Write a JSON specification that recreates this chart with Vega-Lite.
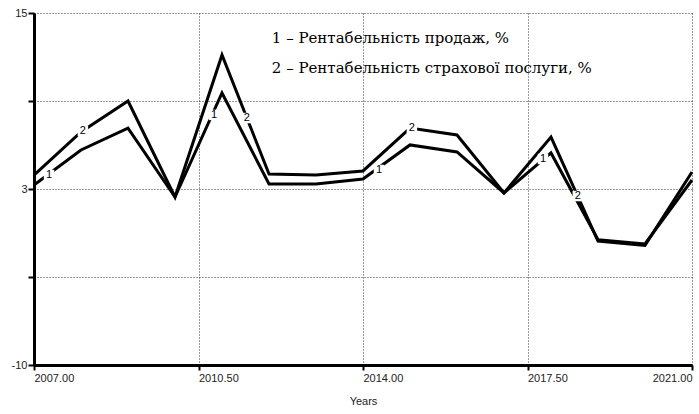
{
  "$schema": "https://vega.github.io/schema/vega-lite/v6.json",
  "width": 658,
  "height": 352,
  "autosize": "none",
  "padding": {"left": 34, "top": 13, "right": 7, "bottom": 49},
  "background": "white",
  "config": {"view": {"stroke": null}},
  "datasets": {
    "lines": [
      {"year": 2007, "series": "2", "value": 3.49}, {"year": 2008, "series": "2", "value": 6.55}, {"year": 2009, "series": "2", "value": 8.75},
      {"year": 2010, "series": "2", "value": 1.93}, {"year": 2011, "series": "2", "value": 12.02}, {"year": 2012, "series": "2", "value": 3.57},
      {"year": 2013, "series": "2", "value": 3.49}, {"year": 2014, "series": "2", "value": 3.78}, {"year": 2015, "series": "2", "value": 6.83},
      {"year": 2016, "series": "2", "value": 6.34}, {"year": 2017, "series": "2", "value": 2.22}, {"year": 2018, "series": "2", "value": 6.19},
      {"year": 2019, "series": "2", "value": -1.2}, {"year": 2020, "series": "2", "value": -1.5}, {"year": 2021, "series": "2", "value": 3.71},
      {"year": 2007, "series": "1", "value": 2.78}, {"year": 2008, "series": "1", "value": 5.27}, {"year": 2009, "series": "1", "value": 6.83},
      {"year": 2010, "series": "1", "value": 1.93}, {"year": 2011, "series": "1", "value": 9.32}, {"year": 2012, "series": "1", "value": 2.86},
      {"year": 2013, "series": "1", "value": 2.86}, {"year": 2014, "series": "1", "value": 3.21}, {"year": 2015, "series": "1", "value": 5.63},
      {"year": 2016, "series": "1", "value": 5.13}, {"year": 2017, "series": "1", "value": 2.22}, {"year": 2018, "series": "1", "value": 5.06},
      {"year": 2019, "series": "1", "value": -1.1}, {"year": 2020, "series": "1", "value": -1.4}, {"year": 2021, "series": "1", "value": 3.14}
    ],
    "labels": [
      {"x": 2007.32, "y": 3.49, "t": "1"}, {"x": 2008.04, "y": 6.62, "t": "2"},
      {"x": 2010.83, "y": 7.76, "t": "1"}, {"x": 2011.53, "y": 7.54, "t": "2"},
      {"x": 2014.34, "y": 3.85, "t": "1"}, {"x": 2015.04, "y": 6.83, "t": "2"},
      {"x": 2017.83, "y": 4.63, "t": "1"}, {"x": 2018.57, "y": 2.0, "t": "2"}
    ],
    "legend": [
      {"x": 2012.06, "y": 13.22, "t": "1 – Рентабельність продаж, %"},
      {"x": 2012.06, "y": 11.1, "t": "2 – Рентабельність страхової послуги, %"}
    ]
  },
  "layer": [
    {
      "data": {"name": "lines"},
      "mark": {"type": "line", "color": "black", "strokeWidth": 3, "strokeJoin": "miter"},
      "encoding": {
        "x": {
          "field": "year", "type": "quantitative",
          "scale": {"domain": [2007, 2021], "nice": false, "zero": false},
          "axis": {
            "title": "Years", "values": [2007, 2010.5, 2014, 2017.5, 2021], "format": ".2f",
            "domain": true, "domainColor": "black", "domainWidth": 3,
            "ticks": true, "tickColor": "black", "tickWidth": 2, "tickSize": 5,
            "grid": true, "gridColor": "#333", "gridDash": [1, 2], "gridWidth": 1,
            "labelFont": "Liberation Sans", "labelFontSize": 11, "labelColor": "#222",
            "labelAlign": {"expr": "datum.value == 2021 ? 'right' : 'left'"},
            "labelDx": {"expr": "datum.value == 2021 ? 5 : -7"},
            "labelPadding": 2,
            "titleFont": "Liberation Sans", "titleFontSize": 11, "titleFontWeight": "normal", "titleColor": "#222", "titlePadding": 12
          }
        },
        "y": {
          "field": "value", "type": "quantitative",
          "scale": {"domain": [-10, 15], "nice": false, "zero": false},
          "axis": {
            "title": null, "values": [15, 8.75, 2.5, -3.75, -10],
            "labelExpr": "datum.value == 15 ? '15' : datum.value == 2.5 ? '3' : datum.value == -10 ? '-10' : ''",
            "domain": true, "domainColor": "black", "domainWidth": 3,
            "ticks": true, "tickColor": "black", "tickWidth": 2, "tickSize": 6,
            "grid": true, "gridColor": "#333", "gridDash": [1, 2], "gridWidth": 1,
            "labelFont": "Liberation Sans", "labelFontSize": 11, "labelColor": "#222", "labelPadding": 1
          }
        },
        "detail": {"field": "series"}
      }
    },
    {
      "data": {"name": "labels"},
      "mark": {"type": "point", "shape": "square", "filled": true, "color": "white", "opacity": 1, "size": 110},
      "encoding": {
        "x": {"field": "x", "type": "quantitative"},
        "y": {"field": "y", "type": "quantitative"}
      }
    },
    {
      "data": {"name": "labels"},
      "mark": {"type": "text", "font": "Liberation Sans", "fontSize": 11, "fill": "#000000", "baseline": "middle", "align": "center"},
      "encoding": {
        "x": {"field": "x", "type": "quantitative"},
        "y": {"field": "y", "type": "quantitative"},
        "text": {"field": "t"}
      }
    },
    {
      "data": {"name": "legend"},
      "mark": {"type": "text", "font": "DejaVu Serif", "fontSize": 15, "fill": "#000000", "baseline": "middle", "align": "left"},
      "encoding": {
        "x": {"field": "x", "type": "quantitative"},
        "y": {"field": "y", "type": "quantitative"},
        "text": {"field": "t"}
      }
    }
  ]
}
